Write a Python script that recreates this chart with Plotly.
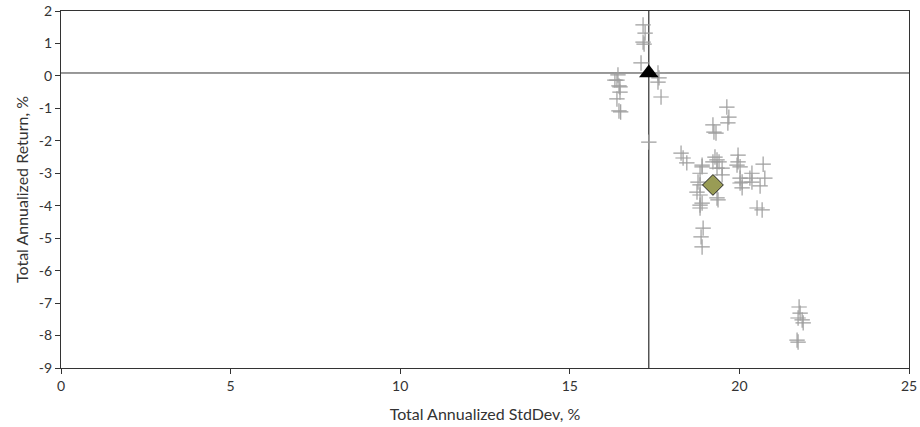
import plotly.graph_objects as go

# Peer funds (risk, return)
peer_stddev = [17.16, 17.22, 17.16, 17.19, 17.10, 17.60, 17.63, 16.42, 16.39, 16.45,
               16.33, 16.48, 16.48, 16.39, 16.45, 16.50, 17.60, 17.69, 17.33,
               19.63, 19.69, 19.66, 19.22, 19.25, 19.31, 18.28, 18.34, 18.45, 18.90,
               19.28, 19.22, 19.40, 19.34, 19.96, 19.96, 20.02,
               18.90, 18.84, 18.78, 18.84, 18.75, 18.84, 18.90, 18.84, 19.34, 19.49,
               19.49, 19.37, 19.34, 19.93, 20.02, 20.08, 20.37, 20.31, 20.52,
               20.02, 20.08, 20.37, 20.70, 20.75, 20.61, 20.67,
               18.84, 18.93, 18.87, 18.90,
               21.76, 21.79, 21.73, 21.85, 21.88, 21.70, 21.73]
peer_return = [1.57, 1.32, 1.04, 0.98, 0.40, 0.09, -0.06, 0.03, -0.13, -0.31,
               -0.13, -0.34, -0.50, -0.71, -1.08, -1.11, -0.19, -0.65, -2.04,
               -0.96, -1.27, -1.45, -1.51, -1.73, -1.76, -2.38, -2.53, -2.68, -2.75,
               -2.50, -2.65, -2.65, -2.84, -2.44, -2.65, -2.80,
               -2.80, -3.00, -3.27, -3.36, -3.58, -3.67, -3.92, -4.07, -2.59, -2.84,
               -3.05, -3.82, -3.76, -2.75, -3.15, -3.27, -3.00, -3.15, -4.07,
               -3.30, -3.45, -3.27, -2.72, -3.15, -3.39, -4.13,
               -3.98, -4.69, -4.96, -5.27,
               -7.12, -7.31, -7.46, -7.52, -7.61, -8.14, -8.20]

# Benchmark (triangle) and fund (diamond)
bench_stddev = [17.33]
bench_return = [0.09]
fund_stddev = [19.22]
fund_return = [-3.36]

x_ticks = [0, 5, 10, 15, 20, 25]
x_ticklabels = ["0", "5", "10", "15", "20", "25"]
y_ticks = [-9, -8, -7, -6, -5, -4, -3, -2, -1, 0, 1, 2]
y_ticklabels = ["-9", "-8", "-7", "-6", "-5", "-4", "-3", "-2", "-1", "0", "1", "2"]

font_family = "Century Gothic, URW Gothic, Lato, sans-serif"

fig = go.Figure()
fig.add_trace(go.Scatter(
    x=peer_stddev, y=peer_return, mode="markers",
    marker=dict(symbol="cross-thin", size=11, line=dict(color="#9e9e9e", width=1.2)),
    showlegend=False, hoverinfo="x+y"))
fig.add_trace(go.Scatter(
    x=bench_stddev, y=bench_return, mode="markers",
    marker=dict(symbol="triangle-up", size=17, color="#000000"),
    showlegend=False))
fig.add_trace(go.Scatter(
    x=fund_stddev, y=fund_return, mode="markers",
    marker=dict(symbol="diamond", size=16, color="#999c55",
                line=dict(color="#222222", width=1)),
    showlegend=False))

fig.add_shape(type="line", xref="x", yref="paper", x0=bench_stddev[0], x1=bench_stddev[0],
              y0=0, y1=1, line=dict(color="#000000", width=1), layer="below")
fig.add_shape(type="line", xref="paper", yref="y", x0=0, x1=1, y0=bench_return[0],
              y1=bench_return[0], line=dict(color="#333333", width=1), layer="below")

fig.update_layout(
    width=920, height=427,
    margin=dict(l=61, r=11, t=11, b=59),
    paper_bgcolor="white", plot_bgcolor="white",
    font=dict(family=font_family, size=13, color="#333333"),
    xaxis=dict(range=[0, 25], tickvals=x_ticks, ticktext=x_ticklabels, ticks="outside", ticklen=5,
               showgrid=False, zeroline=False, showline=True, linecolor="#333333",
               linewidth=1, mirror=True, tickcolor="#333333", automargin=False,
               title=dict(text="Total Annualized StdDev, %", standoff=16),
               tickfont=dict(size=14)),
    yaxis=dict(range=[-9, 2], tickvals=y_ticks, ticktext=y_ticklabels, ticks="outside", ticklen=5,
               showgrid=False, zeroline=False, showline=True, linecolor="#333333",
               linewidth=1, mirror=True, tickcolor="#333333", automargin=False,
               title=dict(text="Total Annualized Return, %", standoff=6),
               tickfont=dict(size=14)),
)

fig.write_html("out.html", config={"displayModeBar": False},
               post_script="document.body.style.margin='0';document.body.style.overflow='hidden';")
